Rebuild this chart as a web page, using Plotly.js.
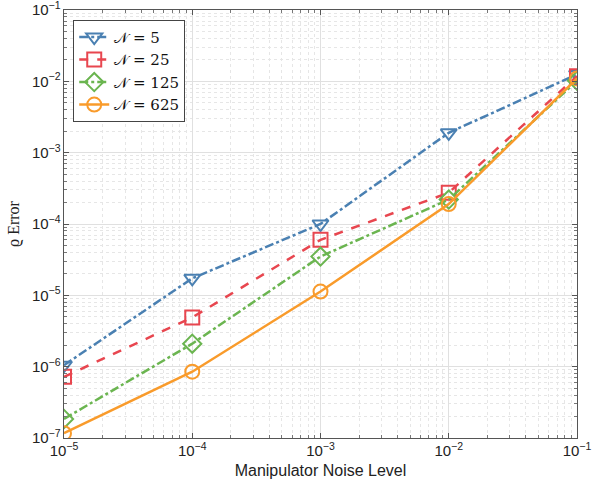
<!DOCTYPE html>
<html><head><meta charset="utf-8">
<script src="https://cdn.plot.ly/plotly-3.0.1.min.js"></script>
<style>body{margin:0;padding:0;background:#fff}#chart{width:601px;height:486px}</style>
</head><body><div id="chart"></div>
<script>
const noise = [1e-5, 1e-4, 1e-3, 1e-2, 1e-1];
const seriesNames = ['𝒩 = 5', '𝒩 = 25', '𝒩 = 125', '𝒩 = 625'];
const errN5   = [1.05e-6, 1.73e-5, 1.0e-4, 1.9e-3, 1.25e-2];
const errN25  = [0.72e-6, 4.9e-6, 6.0e-5, 2.75e-4, 1.18e-2];
const errN125 = [1.85e-7, 2.1e-6, 3.5e-5, 2.2e-4, 1.02e-2];
const errN625 = [1.17e-7, 0.85e-6, 1.13e-5, 1.9e-4, 1.1e-2];

const colors = ['#4A80B2', '#E8464F', '#6BB550', '#F99B2B'];
const dashes = ['dashdot', 'dash', 'dashdot', 'solid'];
const symbols = ['triangle-down-open', 'square-open', 'diamond-open', 'circle-open'];
const ys = [errN5, errN25, errN125, errN625];

const traces = ys.map((y, i) => ({
  x: noise, y: y, name: seriesNames[i], type: 'scatter', mode: 'lines+markers',
  line: {color: colors[i], width: 2.5, dash: dashes[i]},
  marker: {symbol: symbols[i], size: 14, color: colors[i], line: {color: colors[i], width: 2}}
}));

const axisCommon = {
  type: 'log', showline: true, linecolor: '#555', linewidth: 1, mirror: 'ticks',
  tickmode: 'linear', dtick: 1, exponentformat: 'power', ticklabeloverflow: 'allow',
  ticks: 'inside', ticklen: 5, tickcolor: '#555', tickwidth: 1,
  showgrid: true, gridcolor: '#e0e0e0', gridwidth: 1, zeroline: false,
  tickfont: {family: 'Liberation Sans, Arial, sans-serif', size: 12, color: '#222'},
  minor: {dtick: 'D1', ticks: 'inside', ticklen: 3, tickcolor: '#777', showgrid: true, gridcolor: '#e6e6e6', griddash: 'dot', gridwidth: 1}
};

const layout = {
  width: 601, height: 486,
  margin: {l: 64, r: 24, t: 10, b: 48},
  paper_bgcolor: '#fff', plot_bgcolor: '#fff',
  showlegend: true,
  legend: {x: 0.018, y: 0.977, xanchor: 'left', yanchor: 'top', bgcolor: '#fff',
           bordercolor: '#444', borderwidth: 1,
           font: {family: 'DejaVu Serif, Liberation Serif, serif', size: 15, color: '#111'},
           tracegroupgap: 0},
  xaxis: Object.assign({}, axisCommon, {
    range: [-5, -1],
    title: {text: 'Manipulator Noise Level', font: {family: 'Liberation Sans, Arial, sans-serif', size: 16, color: '#222'}, standoff: 6}
  }),
  yaxis: Object.assign({}, axisCommon, {
    range: [-7, -1],
    title: {text: 'ϱ Error', font: {family: 'Liberation Serif, DejaVu Serif, serif', size: 16, color: '#222'}, standoff: 8}
  })
};

Plotly.newPlot('chart', traces, layout, {displayModeBar: false, staticPlot: true});
</script></body></html>
